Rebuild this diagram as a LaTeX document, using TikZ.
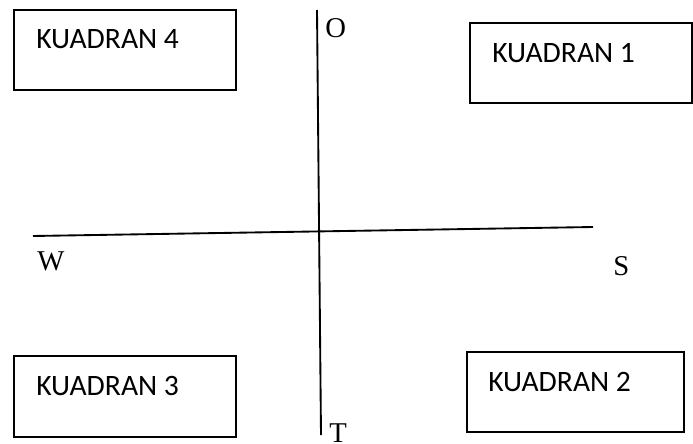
\documentclass[tikz,border=0pt]{standalone}
\usepackage{fontspec}
\newfontfamily\boxfont{Carlito}
\newfontfamily\axfont{Liberation Serif}
\begin{document}
\begin{tikzpicture}[x=0.75pt,y=-0.75pt,
  quadbox/.style={draw=black,line width=1.4pt,fill=white},
  quadtext/.style={anchor=base west,inner sep=0pt,font=\boxfont\fontsize{22.2}{26}\selectfont},
  axlabel/.style={anchor=base west,inner sep=0pt,font=\axfont\fontsize{21.5}{25}\selectfont},
  axline/.style={draw=black,line width=1.4pt}]
\useasboundingbox[fill=white] (0,0) rectangle (693,443);
% quadrant boxes
\draw[quadbox] (14,10) rectangle (236,90);
\draw[quadbox] (470,23) rectangle (692,103);
\draw[quadbox] (14,356) rectangle (236,437);
\draw[quadbox] (467,352) rectangle (684,432);
\node[quadtext] (k4) at (36,48) {KUADRAN 4};
\node[quadtext] (k1) at (492,62) {KUADRAN 1};
\node[quadtext] (k3) at (36,395) {KUADRAN 3};
\node[quadtext] (k2) at (488,391) {KUADRAN 2};
% axes
\coordinate (top) at (317,10);
\coordinate (bottom) at (321,435);
\coordinate (left) at (33,236);
\coordinate (right) at (593,227);
\draw[axline] (top) -- (bottom);
\draw[axline] (left) -- (right);
% axis labels
\node[axlabel] (O) at (325,37) {O};
\node[axlabel] (W) at (37,270) {W};
\node[axlabel] (S) at (613,275) {S};
\node[axlabel] (T) at (329,442) {T};
\end{tikzpicture}
\end{document}
